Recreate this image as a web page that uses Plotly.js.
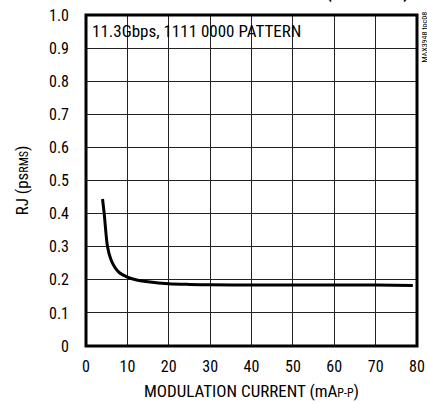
<!DOCTYPE html>
<html>
<head>
<meta charset="utf-8">
<script src="https://cdn.plot.ly/plotly-3.0.1.min.js"></script>
<style>html,body{margin:0;padding:0;background:#fff;}#chart{width:427px;height:404px;}</style>
</head>
<body>
<div id="chart"></div>
<script>
// Data
const modulationCurrent = [4, 4.4, 5.2, 6, 7, 8, 10, 12, 15, 20, 25, 30, 40, 50, 60, 70, 79];
const rjPsRms = [0.444, 0.40, 0.30, 0.262, 0.237, 0.222, 0.208, 0.200, 0.194, 0.188, 0.186, 0.185, 0.184, 0.184, 0.184, 0.184, 0.183];
const xTicks = [0, 10, 20, 30, 40, 50, 60, 70, 80];
const yTicks = [0, 0.1, 0.2, 0.3, 0.4, 0.5, 0.6, 0.7, 0.8, 0.9, 1.0];
const yTickLabels = ['0', '0.1', '0.2', '0.3', '0.4', '0.5', '0.6', '0.7', '0.8', '0.9', '1.0'];

const FONT = '"Liberation Sans Narrow", "Arial Narrow", "Roboto Condensed", sans-serif';

const trace = {
  x: modulationCurrent,
  y: rjPsRms,
  type: 'scatter',
  mode: 'lines',
  line: {color: '#000', width: 3, shape: 'spline', smoothing: 0.8},
  hoverinfo: 'skip',
  showlegend: false
};

const layout = {
  width: 427,
  height: 404,
  margin: {l: 86, r: 10, t: 15, b: 58},
  paper_bgcolor: '#fff',
  plot_bgcolor: '#fff',
  font: {family: FONT, size: 16, color: '#000'},
  xaxis: {
    range: [0, 80],
    tickvals: xTicks,
    ticktext: xTicks.map(String),
    showgrid: true,
    gridcolor: '#222',
    gridwidth: 1,
    zeroline: false,
    showline: false,
    ticks: '',
    ticklabelstandoff: 9,
    tickfont: {family: FONT, size: 16, color: '#000'},
    title: {text: 'MODULATION CURRENT (mA<span style="font-size:12px">P-P</span>)', font: {family: FONT, size: 17, color: '#000'}, standoff: 10},
    fixedrange: true
  },
  yaxis: {
    range: [0, 1.0],
    tickvals: yTicks,
    ticktext: yTickLabels,
    showgrid: true,
    gridcolor: '#222',
    gridwidth: 1,
    zeroline: false,
    showline: false,
    ticks: '',
    ticklabelstandoff: 16,
    tickfont: {family: FONT, size: 16, color: '#000'},
    title: {text: 'RJ (ps<span style="font-size:12px">RMS</span>)', font: {family: FONT, size: 17, color: '#000'}, standoff: 16},
    fixedrange: true
  },
  shapes: [{
    type: 'rect', xref: 'paper', yref: 'paper', x0: 0, x1: 1, y0: 0, y1: 1,
    line: {color: '#000', width: 3}, fillcolor: 'rgba(0,0,0,0)', layer: 'above'
  }],
  annotations: [
    {
      text: '11.3Gbps, 1111 0000 PATTERN', xref: 'paper', yref: 'paper',
      x: 0.012, y: 0.988, xanchor: 'left', yanchor: 'top', showarrow: false,
      font: {family: FONT, size: 17, color: '#000'}
    },
    {
      text: 'MAX3948 toc08', xref: 'paper', yref: 'paper',
      x: 1, y: 1, xanchor: 'left', yanchor: 'middle', xshift: 0, yshift: -22,
      textangle: -90, showarrow: false,
      font: {family: FONT, size: 8, color: '#000'}
    },
    {
      text: '<b>(continued)</b>', xref: 'paper', yref: 'paper',
      x: 1, y: 1, xanchor: 'right', yanchor: 'bottom', xshift: -6, yshift: 10,
      showarrow: false,
      font: {family: FONT, size: 18, color: '#000'}
    }
  ]
};

Plotly.newPlot('chart', [trace], layout, {staticPlot: true, displayModeBar: false});
</script>
</body>
</html>
